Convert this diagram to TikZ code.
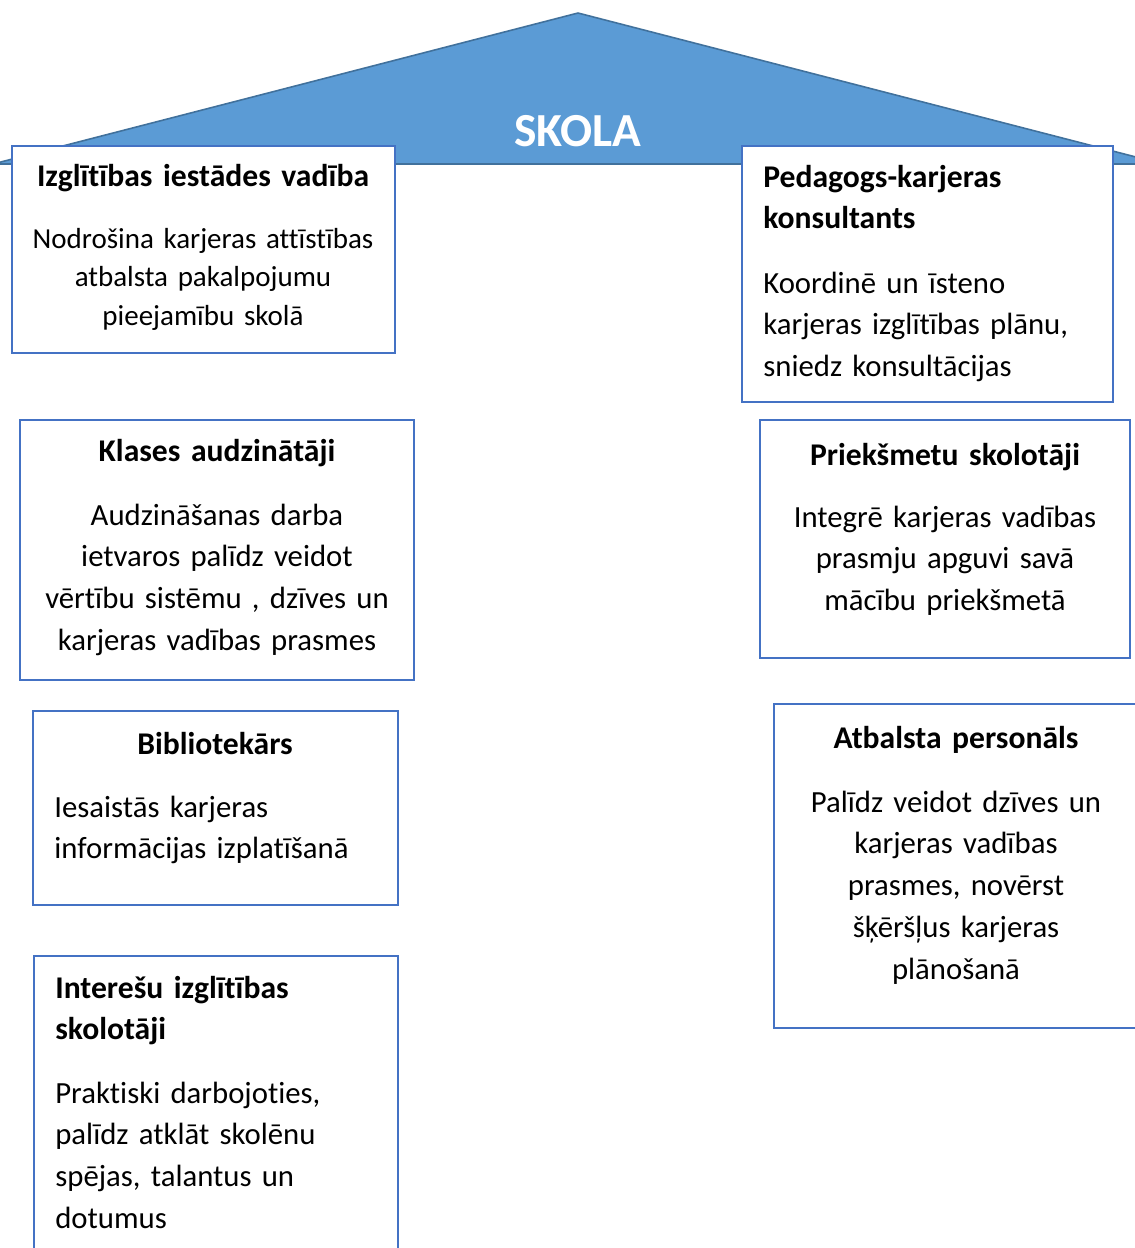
\documentclass[tikz,border=0pt]{standalone}
\usepackage{fontspec}
\setmainfont{Carlito}[Ligatures=NoCommon]
\usetikzlibrary{fit}
\definecolor{roofblue}{HTML}{5B9BD5}
\definecolor{roofline}{HTML}{41719C}
\definecolor{boxblue}{HTML}{4472C4}
\begin{document}
\begin{tikzpicture}[x=0.02cm, y=-0.02cm,
	box/.style={draw=boxblue, line width=1.1pt, fill=white, inner sep=0pt},
	head/.style={font=\fontsize{18}{23.8}\selectfont\bfseries, inner sep=0pt, text width=8cm},
	body/.style={font=\fontsize{17.5}{23.8}\selectfont, inner sep=0pt, text width=8cm},
	mid/.style={align=center, anchor=base},
	lft/.style={align=left, anchor=base west}]
	\useasboundingbox (0,0) rectangle (1135,1248);
	% roof
	\draw[fill=roofblue, draw=roofline, line width=0.9pt] (-7,164) -- (578,13) -- (1163,164) -- cycle;
	\node[font=\fontsize{27}{30}\selectfont\bfseries, text=white] (skola) at (578,131) {SKOLA};
	% boxes
	\node[box, fit={(12,146) (395,353)}] (vad) {};
	\node[box, fit={(742,146) (1113,402)}] (ped) {};
	\node[box, fit={(20,420) (414,680)}] (kla) {};
	\node[box, fit={(760,420) (1130,658)}] (pri) {};
	\node[box, fit={(33,711) (398,905)}] (bib) {};
	\node[box, fit={(774,704) (1150,1028)}] (atb) {};
	\node[box, fit={(34,956) (398,1265)}] (int) {};
	% texts
	\node[head, mid] (vadT) at (203,186) {Izglītības iestādes vadība};
	\node[body, mid, font=\fontsize{16.5}{22.1}\selectfont] (vadB) at (203,248) {Nodrošina karjeras attīstības\\atbalsta pakalpojumu\\pieejamību skolā};
	\node[head, lft] (pedT) at (763,187) {Pedagogs-karjeras\\konsultants};
	\node[body, lft] (pedB) at (763,293) {Koordinē un īsteno\\karjeras izglītības plānu,\\sniedz konsultācijas};
	\node[head, mid] (klaT) at (217,461) {Klases audzinātāji};
	\node[body, mid] (klaB) at (217,525) {Audzināšanas darba\\ietvaros palīdz veidot\\vērtību sistēmu , dzīves un\\karjeras vadības prasmes};
	\node[head, mid] (priT) at (945,465) {Priekšmetu skolotāji};
	\node[body, mid] (priB) at (945,527) {Integrē karjeras vadības\\prasmju apguvi savā\\mācību priekšmetā};
	\node[head, mid] (bibT) at (215,754) {Bibliotekārs};
	\node[body, lft] (bibB) at (54,817) {Iesaistās karjeras\\informācijas izplatīšanā};
	\node[head, mid] (atbT) at (956,748) {Atbalsta personāls};
	\node[body, mid] (atbB) at (956,812) {Palīdz veidot dzīves un\\karjeras vadības\\prasmes, novērst\\šķēršļus karjeras\\plānošanā};
	\node[head, lft] (intT) at (55,998) {Interešu izglītības\\skolotāji};
	\node[body, lft] (intB) at (55,1103) {Praktiski darbojoties,\\palīdz atklāt skolēnu\\spējas, talantus un\\dotumus};
\end{tikzpicture}
\end{document}
